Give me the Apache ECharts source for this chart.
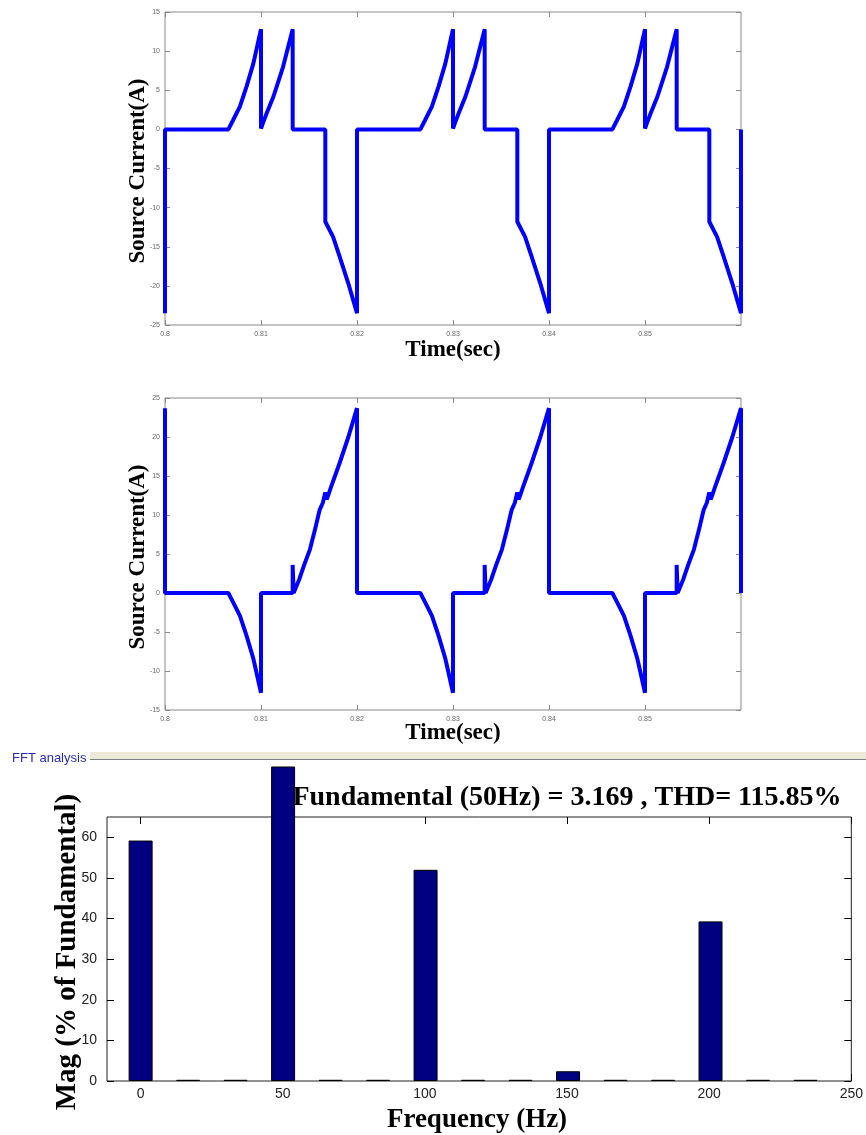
<!DOCTYPE html>
<html>
<head>
<meta charset="utf-8">
<script src="https://cdn.jsdelivr.net/npm/echarts@6/dist/echarts.min.js"></script>
<style>
html, body { margin: 0; padding: 0; background: #fff; }
#main { width: 866px; height: 1135px; }
</style>
</head>
<body>
<div id="main"></div>
<script>
// source current, upper plot (time in s, current in A)
var timeTop = [
    0.8000, 0.8000, 0.8066, 0.8071, 0.8078, 0.8085, 0.8092, 0.8100, 0.8100, 0.8102, 0.8106, 0.8113, 0.8123, 0.8133, 0.8133, 0.8167, 0.8167, 0.8175, 0.8182, 0.8191, 0.8200,
    0.8200, 0.8266, 0.8271, 0.8278, 0.8285, 0.8292, 0.8300, 0.8300, 0.8302, 0.8306, 0.8313, 0.8323, 0.8333, 0.8333, 0.8367, 0.8367, 0.8375, 0.8382, 0.8391, 0.8400,
    0.8400, 0.8466, 0.8471, 0.8478, 0.8485, 0.8492, 0.8500, 0.8500, 0.8502, 0.8506, 0.8513, 0.8523, 0.8533, 0.8533, 0.8567, 0.8567, 0.8575, 0.8582, 0.8591, 0.8600,
    0.8600
];
var currentTop = [
    -23.5, 0, 0, 1.2, 2.9, 5.5, 8.4, 12.8, 0.1, 0.8, 2.1, 4.2, 8.0, 12.8, 0, 0, -11.8, -13.7, -16.3, -19.7, -23.5,
    0, 0, 1.2, 2.9, 5.5, 8.4, 12.8, 0.1, 0.8, 2.1, 4.2, 8.0, 12.8, 0, 0, -11.8, -13.7, -16.3, -19.7, -23.5,
    0, 0, 1.2, 2.9, 5.5, 8.4, 12.8, 0.1, 0.8, 2.1, 4.2, 8.0, 12.8, 0, 0, -11.8, -13.7, -16.3, -19.7, -23.5,
    0
];

// source current, middle plot
var timeMid = [
    0.8000, 0.8000, 0.8066, 0.8071, 0.8078, 0.8085, 0.8092, 0.8100, 0.8100, 0.8133, 0.8133, 0.8134, 0.8140, 0.8145, 0.8151, 0.8156, 0.8161, 0.81645, 0.8167, 0.81685, 0.8173, 0.8182, 0.8191, 0.8200,
    0.8200, 0.8266, 0.8271, 0.8278, 0.8285, 0.8292, 0.8300, 0.8300, 0.8333, 0.8333, 0.8334, 0.8340, 0.8345, 0.8351, 0.8356, 0.8361, 0.83645, 0.8367, 0.83685, 0.8373, 0.8382, 0.8391, 0.8400,
    0.8400, 0.8466, 0.8471, 0.8478, 0.8485, 0.8492, 0.8500, 0.8500, 0.8533, 0.8533, 0.8534, 0.8540, 0.8545, 0.8551, 0.8556, 0.8561, 0.85645, 0.8567, 0.85685, 0.8573, 0.8582, 0.8591, 0.8600,
    0.8600
];
var currentMid = [
    23.7, 0, 0, -1.2, -2.9, -5.5, -8.4, -12.8, 0, 0, 3.6, 0, 1.8, 3.6, 5.6, 8.0, 10.6, 11.6, 12.9, 12.0, 13.6, 16.7, 20.0, 23.7,
    0, 0, -1.2, -2.9, -5.5, -8.4, -12.8, 0, 0, 3.6, 0, 1.8, 3.6, 5.6, 8.0, 10.6, 11.6, 12.9, 12.0, 13.6, 16.7, 20.0, 23.7,
    0, 0, -1.2, -2.9, -5.5, -8.4, -12.8, 0, 0, 3.6, 0, 1.8, 3.6, 5.6, 8.0, 10.6, 11.6, 12.9, 12.0, 13.6, 16.7, 20.0, 23.7,
    0
];

var timeTicks = [0.8, 0.81, 0.82, 0.83, 0.84, 0.85];

// FFT spectrum (Hz, % of fundamental)
var freqs = [0, 16.67, 33.33, 50, 66.67, 83.33, 100, 116.67, 133.33, 150, 166.67, 183.33, 200, 216.67, 233.33];
var mags = [59.2, 0.3, 0.3, 100, 0.3, 0.3, 52.0, 0.3, 0.3, 2.4, 0.3, 0.3, 39.3, 0.3, 0.3];
var freqTicks = [0, 50, 100, 150, 200, 250];
var magTicks = [0, 10, 20, 30, 40, 50, 60];

function zip(a, b) {
    var out = [];
    for (var i = 0; i < a.length; i++) {
        out.push([a[i], b[i]]);
    }
    return out;
}

var myChart = echarts.init(document.getElementById('main'));

var fftFont = '"Liberation Sans", sans-serif';
var noLine = { show: false, onZero: false };

function timeAxis(grid, pos) {
    return {
        gridIndex: grid, type: 'value', position: pos, min: 0.8, max: 0.86,
        axisLine: noLine, splitLine: { show: false },
        axisTick: { inside: true, length: 5, lineStyle: { color: '#8a8a8a' }, customValues: timeTicks },
        axisLabel: { show: pos == 'bottom', customValues: timeTicks, fontSize: 7, color: '#666', margin: 6 }
    };
}
function currAxis(grid, pos, lo, hi) {
    return {
        gridIndex: grid, type: 'value', position: pos, min: lo, max: hi, interval: 5,
        axisLine: noLine, splitLine: { show: false },
        axisTick: { inside: true, length: 5, lineStyle: { color: '#8a8a8a' } },
        axisLabel: { show: pos == 'left', fontSize: 7, color: '#666', margin: 5 }
    };
}
function freqAxis(pos) {
    return {
        gridIndex: 2, type: 'value', position: pos, min: -11.8, max: 250,
        axisLine: noLine, splitLine: { show: false },
        axisTick: { inside: true, length: 7, lineStyle: { color: '#000' }, customValues: freqTicks },
        axisLabel: { show: pos == 'bottom', customValues: freqTicks, fontSize: 14, color: '#222', fontFamily: fftFont, margin: 6 }
    };
}
function magAxis(pos) {
    return {
        gridIndex: 2, type: 'value', position: pos, min: 0, max: 65,
        axisLine: noLine, splitLine: { show: false },
        axisTick: { inside: true, length: 7, lineStyle: { color: '#000' }, customValues: magTicks },
        axisLabel: { show: pos == 'left', customValues: magTicks, fontSize: 14, color: '#222', fontFamily: fftFont, margin: 10 }
    };
}

var option = {
    animation: false,
    backgroundColor: '#fff',
    grid: [
        { left: 165, top: 12, width: 576, height: 313, show: true, borderColor: '#8a8a8a', borderWidth: 1, backgroundColor: '#fff' },
        { left: 165, top: 398, width: 576, height: 312, show: true, borderColor: '#8a8a8a', borderWidth: 1, backgroundColor: '#fff' },
        { left: 107, top: 817, width: 746, height: 264, show: true, borderColor: '#222', borderWidth: 1, backgroundColor: '#fff' },
        // same x scale, taller box: lets the fundamental bar run above the frame
        { left: 107, top: 767, width: 746, height: 314, show: false }
    ],
    xAxis: [
        timeAxis(0, 'bottom'), timeAxis(0, 'top'),
        timeAxis(1, 'bottom'), timeAxis(1, 'top'),
        freqAxis('bottom'), freqAxis('top'),
        { gridIndex: 3, type: 'value', min: -11.8, max: 250, show: false }
    ],
    yAxis: [
        currAxis(0, 'left', -25, 15), currAxis(0, 'right', -25, 15),
        currAxis(1, 'left', -15, 25), currAxis(1, 'right', -15, 25),
        magAxis('left'), magAxis('right'),
        { gridIndex: 3, type: 'value', min: 0, max: 77.31, show: false }
    ],
    series: [
        {
            type: 'line', xAxisIndex: 0, yAxisIndex: 0, showSymbol: false,
            lineStyle: { color: '#0000ff', width: 4 },
            data: zip(timeTop, currentTop)
        },
        {
            type: 'line', xAxisIndex: 2, yAxisIndex: 2, showSymbol: false,
            lineStyle: { color: '#0000ff', width: 4 },
            data: zip(timeMid, currentMid)
        },
        {
            type: 'bar', xAxisIndex: 6, yAxisIndex: 6, barWidth: 24, clip: true,
            itemStyle: { color: '#000080', borderColor: '#000', borderWidth: 1 },
            data: zip(freqs, mags)
        }
    ],
    graphic: [
        { type: 'text', x: 138, y: 171, rotation: Math.PI / 2,
          style: { text: 'Source Current(A)', font: 'bold 23px "Liberation Serif"', fill: '#000', textAlign: 'center', textVerticalAlign: 'middle' } },
        { type: 'text', x: 453, y: 350,
          style: { text: 'Time(sec)', font: 'bold 23px "Liberation Serif"', fill: '#000', textAlign: 'center', textVerticalAlign: 'middle' } },
        { type: 'text', x: 138, y: 557, rotation: Math.PI / 2,
          style: { text: 'Source Current(A)', font: 'bold 23px "Liberation Serif"', fill: '#000', textAlign: 'center', textVerticalAlign: 'middle' } },
        { type: 'text', x: 453, y: 733,
          style: { text: 'Time(sec)', font: 'bold 23px "Liberation Serif"', fill: '#000', textAlign: 'center', textVerticalAlign: 'middle' } },
        { type: 'rect', shape: { x: 90, y: 752, width: 776, height: 7 }, style: { fill: '#ece9d8' }, z: 0 },
        { type: 'line', shape: { x1: 90, y1: 759.5, x2: 866, y2: 759.5 }, style: { stroke: '#808080', lineWidth: 1 }, z: 0 },
        { type: 'text', x: 12, y: 758,
          style: { text: 'FFT analysis', font: '13px "Liberation Sans"', fill: '#2b2bb0', textAlign: 'left', textVerticalAlign: 'middle' } },
        { type: 'text', x: 567, y: 798, z: 10,
          style: { text: 'Fundamental (50Hz) = 3.169 , THD= 115.85%', font: 'bold 28px "Liberation Serif"', fill: '#000', textAlign: 'center', textVerticalAlign: 'middle' } },
        { type: 'text', x: 68, y: 952, rotation: Math.PI / 2,
          style: { text: 'Mag (% of Fundamental)', font: 'bold 29px "Liberation Serif"', fill: '#000', textAlign: 'center', textVerticalAlign: 'middle' } },
        { type: 'text', x: 477, y: 1120,
          style: { text: 'Frequency (Hz)', font: 'bold 27px "Liberation Serif"', fill: '#000', textAlign: 'center', textVerticalAlign: 'middle' } }
    ]
};

myChart.setOption(option);
</script>
</body>
</html>
